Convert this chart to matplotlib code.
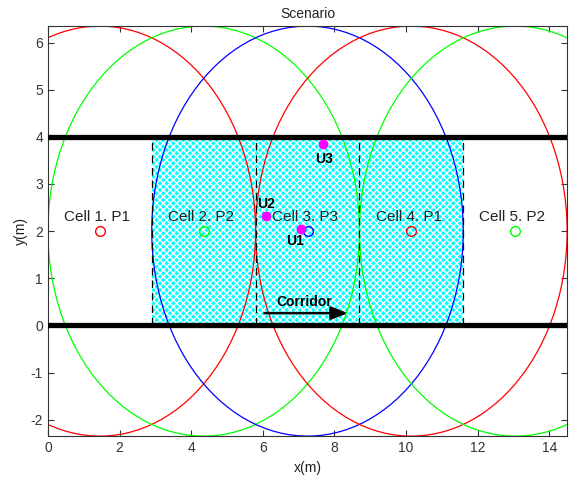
import numpy as np
import matplotlib
matplotlib.use("Agg")
import matplotlib.pyplot as plt
from matplotlib.patches import Rectangle

plt.rcParams['font.family'] = ['Liberation Sans', 'DejaVu Sans']
plt.rcParams['hatch.linewidth'] = 1.0
plt.rcParams['axes.unicode_minus'] = False

# cells
cell_x = [1.45, 4.35, 7.25, 10.15, 13.05]
cell_y = [2, 2, 2, 2, 2]
cell_colors = ['red', '#00ff00', 'blue', 'red', '#00ff00']
cell_labels = ['Cell 1. P1', 'Cell 2. P2', 'Cell 3. P3', 'Cell 4. P1', 'Cell 5. P2']
radius = 4.35

# users
user_x = [7.08, 6.08, 7.67]
user_y = [2.04, 2.32, 3.85]
user_labels = ['U1', 'U2', 'U3']
user_lab_x = [6.9, 6.1, 7.7]
user_lab_y = [1.79, 2.57, 3.53]

# corridor
corr_x = [2.9, 11.6]
corr_y = [0, 4]
wall_y = [0, 4]
dash_x = [2.9, 5.8, 8.7, 11.6]

fig = plt.figure(figsize=(5.7, 4.83), dpi=100)
ax = fig.add_axes([0.084, 0.097, 0.911, 0.849])

# hatched corridor area
ax.add_patch(Rectangle((corr_x[0], corr_y[0]), corr_x[1] - corr_x[0], corr_y[1] - corr_y[0],
                       facecolor='#00ffff', edgecolor='white', hatch='xxxxx', lw=0, zorder=0))

# coverage circles
t = np.linspace(0, 2 * np.pi, 120)
for cx, cy, c in zip(cell_x, cell_y, cell_colors):
    ax.plot(cx + radius * np.cos(t), cy + radius * np.sin(t), color=c, lw=0.9, zorder=2)
    ax.plot(cx, cy, 'o', mfc='none', mec=c, ms=7, mew=1, zorder=3)

for cx, cy, lab in zip(cell_x, cell_y, cell_labels):
    ax.text(cx - 1.0, cy + 0.3, lab, fontsize=11, ha='left', va='center',
            color='#222222', zorder=4)

# corridor limits
for yy in wall_y:
    ax.plot([0, 14.5], [yy, yy], color='black', lw=3.8, zorder=5)
for xx in dash_x:
    ax.plot([xx, xx], corr_y, color='black', lw=0.9, ls=(0, (6, 4)), zorder=3)

# users
ax.plot(user_x, user_y, 'o', color='magenta', ms=6, zorder=6)
for x, y, lab in zip(user_lab_x, user_lab_y, user_labels):
    ax.text(x, y, lab, fontsize=10, fontweight='bold', ha='center', va='center', zorder=6)

# direction arrow
ax.annotate('', xy=(8.45, 0.26), xytext=(5.97, 0.26),
            arrowprops=dict(arrowstyle='-|>,head_length=1.0,head_width=0.4', color='black', lw=1.8),
            zorder=6)
ax.text(7.15, 0.49, 'Corridor', fontsize=10, fontweight='bold', ha='center', va='center', zorder=6)

ax.set_xlim(0, 14.5)
ax.set_ylim(-2.35, 6.35)
ax.set_xticks(np.arange(0, 15, 2))
ax.set_yticks(np.arange(-2, 7, 1))
ax.tick_params(direction='in', top=True, right=True, labelsize=10, length=4,
               colors='#333333')
for s in ax.spines.values():
    s.set_color('#333333')
ax.set_title('Scenario', fontsize=10, pad=6, color='#222222')
ax.set_xlabel('x(m)', fontsize=10, color='#222222')
ax.set_ylabel('y(m)', fontsize=10, labelpad=2, color='#222222')

fig.savefig('out.png', dpi=100)
